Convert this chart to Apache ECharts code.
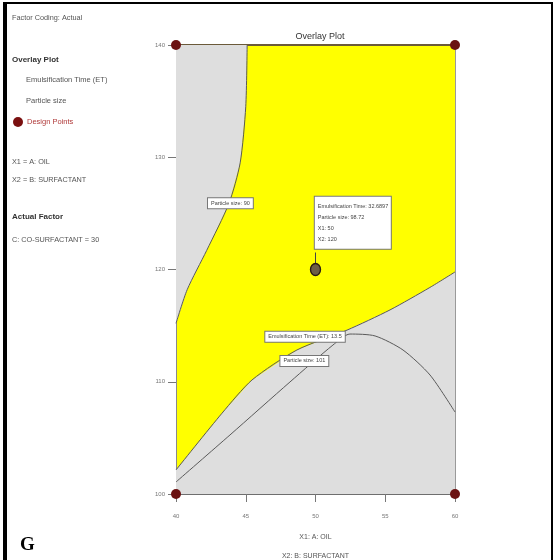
<!DOCTYPE html>
<html>
<head>
<meta charset="utf-8">
<script src="https://cdn.jsdelivr.net/npm/echarts@6/dist/echarts.min.js"></script>
<style>
  html, body { margin: 0; padding: 0; background: #fff; }
  #chart { width: 556px; height: 560px; }
</style>
</head>
<body>
<div id="chart"></div>
<script>
// Axis ranges and tick labels
const xTickLabels = ['40', '45', '50', '55', '60'];
const yTickLabels = ['100', '110', '120', '130', '140'];

// Particle size = 90 contour (left boundary of the feasible zone)
const psLowContour = [
  [45.1, 140], [45.0, 134.5], [44.6, 129.5], [43.8, 125.9],
  [42.2, 121.7], [40.8, 118.2], [40, 115.2]
];
// Emulsification Time (ET) = 13.5 contour (lower boundary of the feasible zone)
const etContour = [
  [40, 102.14], [43.3, 107.2], [45.45, 110.16],
  [48.67, 112.83], [52.26, 114.6], [55.34, 116.4], [58.2, 118.4], [60, 119.78]
];
// Particle size = 101 contour
const psHighContour = [
  [40, 101.07], [43.87, 105.26], [48.17, 109.98], [51.25, 113.27], [52.47, 114.25],
  [54.27, 114.08], [56.27, 112.83], [58.21, 110.6], [60, 107.3]
];

// Design points of the factorial layout and the flagged optimum
const cornerPoints = [[40, 100], [40, 140], [60, 100], [60, 140]];
const optimumPoint = [50, 120];
const optimumText = ['Emulsification Time: 32.6897', 'Particle size: 98.72', 'X1: 50', 'X2: 120'];

// Contour labels: [x, y, text]
const contourLabels = [
  [43.9, 125.9, 'Particle size: 90'],
  [49.25, 114.0, 'Emulsification Time (ET): 13.5'],
  [49.2, 111.85, 'Particle size: 101']
];

// Shaded (infeasible) regions, each closed against the plot corners
const leftRegion = psLowContour.concat([[40, 140]]);
const lowerRegion = etContour.concat([[60, 100], [40, 100]]);

const chart = echarts.init(document.getElementById('chart'), null, { renderer: 'canvas' });
const FONT = '"Liberation Sans Narrow", "Liberation Sans", Arial, sans-serif';

function polygonSeries(points, color) {
  return {
    type: 'custom',
    coordinateSystem: 'cartesian2d',
    data: [0],
    silent: true,
    z: 1,
    renderItem: function (params, api) {
      return {
        type: 'polygon',
        shape: { points: points.map(p => api.coord(p)) },
        style: { fill: color, stroke: null }
      };
    }
  };
}

function contourLine(points) {
  return {
    type: 'line',
    data: points,
    smooth: 0.25,
    symbol: 'none',
    z: 3,
    silent: true,
    lineStyle: { color: '#5a5a5a', width: 1 }
  };
}

const option = {
  animation: false,
  backgroundColor: '#ffffff',
  title: {
    text: 'Overlay Plot',
    left: 315, top: 27, textAlign: 'center',
    textStyle: { fontSize: 9, fontWeight: 'normal', color: '#333', fontFamily: FONT }
  },
  grid: {
    left: 176, right: 101, top: 45, bottom: 66,
    outerBoundsMode: 'none', containLabel: false,
    show: true, backgroundColor: '#ffff00', borderWidth: 0
  },
  xAxis: [{
    type: 'value', min: 40, max: 60, interval: 5,
    axisLine: { lineStyle: { color: '#6e6e6e', width: 2 } },
    axisTick: { show: true, length: 8, lineStyle: { color: '#777' } },
    axisLabel: {
      fontSize: 6, color: '#777', margin: 19, fontFamily: FONT,
      formatter: v => xTickLabels[Math.round((v - 40) / 5)]
    },
    splitLine: { show: false },
    name: 'X1: A: OIL\nX2: B: SURFACTANT',
    nameLocation: 'middle', nameGap: 34,
    nameTextStyle: { fontSize: 7, color: '#555', lineHeight: 19, fontFamily: FONT }
  }, {
    type: 'value', min: 40, max: 60, position: 'top',
    axisLine: { lineStyle: { color: '#6b5a3a', width: 2 } },
    axisTick: { show: false }, axisLabel: { show: false }, splitLine: { show: false }
  }],
  yAxis: [{
    type: 'value', min: 100, max: 140, interval: 10,
    axisLine: { show: true, lineStyle: { color: '#8a8a8a', width: 1 } },
    axisTick: { show: true, length: 8, lineStyle: { color: '#777' } },
    axisLabel: {
      fontSize: 6, color: '#777', margin: 11, fontFamily: FONT,
      formatter: v => yTickLabels[Math.round((v - 100) / 10)]
    },
    splitLine: { show: false }
  }, {
    type: 'value', min: 100, max: 140, position: 'right',
    axisLine: { show: true, lineStyle: { color: '#9a9a9a', width: 1 } },
    axisTick: { show: false }, axisLabel: { show: false }, splitLine: { show: false }
  }],
  series: [
    polygonSeries(leftRegion, '#dedede'),
    polygonSeries(lowerRegion, '#dedede'),
    contourLine(psLowContour),
    contourLine(etContour),
    contourLine(psHighContour),
    {
      type: 'scatter',
      data: contourLabels.map(d => ({ value: [d[0], d[1]], name: d[2] })),
      symbolSize: 0,
      z: 5,
      silent: true,
      itemStyle: { opacity: 1 },
      label: {
        show: true, position: 'inside',
        formatter: p => p.name,
        fontSize: 5.5, color: '#444', fontFamily: FONT,
        backgroundColor: '#ffffff', borderColor: '#777', borderWidth: 1,
        padding: [2, 3]
      }
    },
    {
      type: 'scatter',
      data: cornerPoints,
      symbol: 'circle', symbolSize: 10,
      clip: false, z: 6, silent: true,
      itemStyle: { color: '#6b1212', opacity: 1 }
    },
    {
      type: 'scatter',
      data: [optimumPoint],
      symbol: 'circle', symbolSize: [10, 12],
      z: 6, silent: true,
      itemStyle: { color: '#6e5f45', borderColor: '#2b1d12', borderWidth: 1.5, opacity: 1 },
      label: {
        show: true,
        position: [5, -66],
        formatter: optimumText.join('\n'),
        fontSize: 5.5, lineHeight: 11, color: '#444', fontFamily: FONT,
        backgroundColor: '#ffffff', borderColor: '#777', borderWidth: 1,
        padding: [4, 3, 4, 3], width: 70
      }
    }
  ],
  graphic: [
    // outer frame
    { type: 'rect', shape: { x: 6, y: 3, width: 546, height: 560 }, style: { fill: null, stroke: '#000', lineWidth: 2 }, silent: true },
    { type: 'rect', shape: { x: 3, y: 2, width: 4, height: 558 }, style: { fill: '#000' }, silent: true },
    // side panel text
    { type: 'text', left: 12, top: 14, style: { text: 'Factor Coding: Actual', font: '7.3px ' + FONT, fill: '#555' } },
    { type: 'text', left: 12, top: 56, style: { text: 'Overlay Plot', font: 'bold 8px ' + FONT, fill: '#333' } },
    { type: 'text', left: 26, top: 76, style: { text: 'Emulsification Time (ET)', font: '7.5px ' + FONT, fill: '#555' } },
    { type: 'text', left: 26, top: 97, style: { text: 'Particle size', font: '7.5px ' + FONT, fill: '#555' } },
    { type: 'circle', shape: { cx: 18, cy: 122, r: 5 }, style: { fill: '#7a1010' } },
    { type: 'text', left: 27, top: 118, style: { text: 'Design Points', font: '7.5px ' + FONT, fill: '#b03a3a' } },
    { type: 'text', left: 12, top: 158, style: { text: 'X1 = A: OIL', font: '7.3px ' + FONT, fill: '#555' } },
    { type: 'text', left: 12, top: 176, style: { text: 'X2 = B: SURFACTANT', font: '7.3px ' + FONT, fill: '#555' } },
    { type: 'text', left: 12, top: 213, style: { text: 'Actual Factor', font: 'bold 8px ' + FONT, fill: '#333' } },
    { type: 'text', left: 12, top: 236, style: { text: 'C: CO-SURFACTANT = 30', font: '7.3px ' + FONT, fill: '#555' } },
    { type: 'text', left: 20, top: 536, style: { text: 'G', font: 'bold 19px "Liberation Serif", "Times New Roman", serif', fill: '#000' } }
  ]
};

chart.setOption(option);

// Leader line from the optimum point up to its annotation box
const base = chart.convertToPixel({ gridIndex: 0 }, optimumPoint);
chart.setOption({
  graphic: option.graphic.concat([{
    type: 'line', z: 4, silent: true,
    shape: { x1: base[0], y1: base[1] - 6, x2: base[0], y2: base[1] - 17 },
    style: { stroke: '#444', lineWidth: 1 }
  }])
});
</script>
</body>
</html>
